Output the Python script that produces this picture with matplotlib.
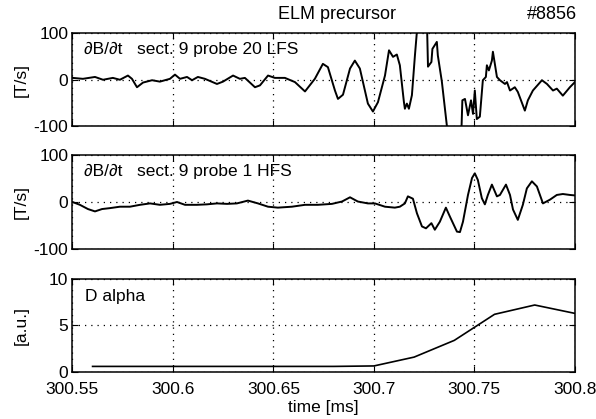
import numpy as np
import matplotlib
matplotlib.use("Agg")
import matplotlib.pyplot as plt

plt.rcParams['font.family'] = ['Liberation Sans', 'DejaVu Sans']
plt.rcParams['axes.unicode_minus'] = False

# dB/dt, sector 9 probe 20 (LFS)
t_lfs = [300.5500, 300.5552, 300.5612, 300.5652, 300.5701, 300.5736, 300.5776, 300.5796,
         300.5821, 300.5851, 300.5896, 300.5935, 300.5985, 300.6010, 300.6035, 300.6070,
         300.6095, 300.6124, 300.6159, 300.6219, 300.6249, 300.6299, 300.6333, 300.6358,
         300.6408, 300.6433, 300.6473, 300.6507, 300.6557, 300.6607, 300.6657, 300.6706,
         300.6746, 300.6771, 300.6806, 300.6821, 300.6846, 300.6881, 300.6905, 300.6930,
         300.6970, 300.6995, 300.7020, 300.7055, 300.7075, 300.7095, 300.7114, 300.7129,
         300.7149, 300.7154, 300.7164, 300.7174, 300.7189, 300.7204, 300.7219, 300.7239,
         300.7264, 300.7269, 300.7286, 300.7291, 300.7313, 300.7318, 300.7338, 300.7366,
         300.7396, 300.7425, 300.7436, 300.7440, 300.7453, 300.7468, 300.7483, 300.7493,
         300.7502, 300.7512, 300.7527, 300.7542, 300.7557, 300.7562, 300.7572, 300.7587,
         300.7592, 300.7612, 300.7627, 300.7652, 300.7662, 300.7677, 300.7701, 300.7716,
         300.7751, 300.7766, 300.7791, 300.7836, 300.7861, 300.7891, 300.7910, 300.7940,
         300.7975, 300.8000]
b_lfs = [4, 2, 6, 0, 4, 0, 9, 2,
         -16, -6, -1, -4, 2, 11, 2, 6,
         -1, 6, 2, -9, -4, 9, 2, 4,
         -16, -12, 9, 4, 4, -5, -25, 2,
         34, 27, -23, -41, -32, 24, 41, 24,
         -51, -68, -48, 9, 63, 49, 54, 31,
         -47, -62, -51, -62, -33, 52, 130, 160,
         120, 28, 38, 66, 81, 52, -4, -110,
         -150, -120, -100, -44, -41, -76, -44, -73,
         -23, -84, -79, -1, 6, 31, 20, 41,
         60, 6, -1, -9, -5, -23, -16, -26,
         -66, -44, -23, -1, -9, -23, -19, -34,
         -16, -5]

# dB/dt, sector 9 probe 1 (HFS)
t_hfs = [300.5500, 300.5537, 300.5577, 300.5612, 300.5647, 300.5687, 300.5736, 300.5786,
         300.5836, 300.5886, 300.5935, 300.5985, 300.6020, 300.6060, 300.6119, 300.6169,
         300.6219, 300.6269, 300.6318, 300.6373, 300.6423, 300.6473, 300.6522, 300.6592,
         300.6657, 300.6721, 300.6791, 300.6841, 300.6881, 300.6920, 300.6970, 300.7005,
         300.7055, 300.7104, 300.7129, 300.7154, 300.7169, 300.7194, 300.7214, 300.7239,
         300.7259, 300.7286, 300.7303, 300.7328, 300.7358, 300.7378, 300.7413, 300.7428,
         300.7443, 300.7468, 300.7488, 300.7502, 300.7517, 300.7537, 300.7552, 300.7567,
         300.7587, 300.7612, 300.7627, 300.7657, 300.7677, 300.7692, 300.7716, 300.7741,
         300.7761, 300.7786, 300.7811, 300.7841, 300.7876, 300.7910, 300.7940, 300.7975,
         300.8000]
b_hfs = [0, -6, -15, -20, -15, -13, -10, -10,
         -6, -3, -6, -4, 0, -6, -6, -5,
         -3, -4, -3, 3, -3, -10, -12, -10,
         -6, -6, -4, 1, 10, 1, -3, -3,
         -10, -12, -10, -3, 12, 7, -24, -52,
         -56, -45, -59, -42, -12, -31, -63, -64,
         -42, 15, 51, 61, 47, 8, -5, 15,
         37, 12, 15, 37, 15, -16, -38, -6,
         29, 44, 33, -3, 5, 15, 17, 15,
         14]

# D alpha
t_da = [300.56, 300.58, 300.60, 300.62, 300.64, 300.66, 300.68, 300.70,
        300.72, 300.74, 300.76, 300.78, 300.80]
d_alpha = [0.6, 0.6, 0.6, 0.6, 0.6, 0.6, 0.6, 0.65, 1.6, 3.4, 6.2, 7.2, 6.3]

xticks = [300.55, 300.6, 300.65, 300.7, 300.75, 300.8]
xticklabels = ['300.55', '300.6', '300.65', '300.7', '300.75', '300.8']

fig = plt.figure(figsize=(5.96, 4.19), dpi=100)
ax1 = fig.add_axes([0.1216, 0.6981, 0.8430, 0.2231])
ax2 = fig.add_axes([0.1216, 0.4057, 0.8430, 0.2244])
ax3 = fig.add_axes([0.1216, 0.1122, 0.8430, 0.2220])

fs = 12.5
for ax in (ax1, ax2, ax3):
    ax.set_xlim(300.55, 300.8)
    ax.set_xticks(xticks)
    ax.grid(True, color='black', linestyle=(0, (1, 4)), linewidth=0.9)
    ax.tick_params(direction='in', right=True, top=True, length=4,
                   labelsize=fs, width=0.8)
    ax.tick_params(axis='y', pad=3)
    ax.tick_params(axis='x', pad=7)
    for sp in ax.spines.values():
        sp.set_linewidth(1.1)

ax1.plot(t_lfs, b_lfs, color='black', linewidth=1.4)
ax1.set_ylim(-100, 100)
ax1.set_yticks([-100, 0, 100])
ax1.set_xticklabels([])
ax1.set_ylabel('[T/s]', fontsize=fs)
ax1.text(0.023, 0.82, '\u2202B/\u2202t   sect. 9 probe 20 LFS', transform=ax1.transAxes,
         fontsize=fs, va='center', ha='left')

ax2.plot(t_hfs, b_hfs, color='black', linewidth=1.4)
ax2.set_ylim(-100, 100)
ax2.set_yticks([-100, 0, 100])
ax2.set_xticklabels([])
ax2.set_ylabel('[T/s]', fontsize=fs)
ax2.text(0.023, 0.82, '\u2202B/\u2202t   sect. 9 probe 1 HFS', transform=ax2.transAxes,
         fontsize=fs, va='center', ha='left')

ax3.plot(t_da, d_alpha, color='black', linewidth=1.2)
ax3.set_ylim(0, 10)
ax3.set_yticks([0, 5, 10])
ax3.set_xticklabels(xticklabels)
ax3.set_ylabel('[a.u.]', fontsize=fs)
ax3.set_xlabel('time [ms]', fontsize=fs)
ax3.text(0.025, 0.81, 'D alpha', transform=ax3.transAxes,
         fontsize=fs, va='center', ha='left')

for ax in (ax1, ax2, ax3):
    ax.yaxis.set_label_coords(-0.088, 0.5)
ax3.xaxis.set_label_coords(0.5, -0.3)

fig.text(0.565, 0.965, 'ELM precursor', fontsize=fs + 0.5, ha='center', va='center')
fig.text(0.968, 0.965, '#8856', fontsize=fs + 0.5, ha='right', va='center')

fig.savefig('out.png', dpi=100)
